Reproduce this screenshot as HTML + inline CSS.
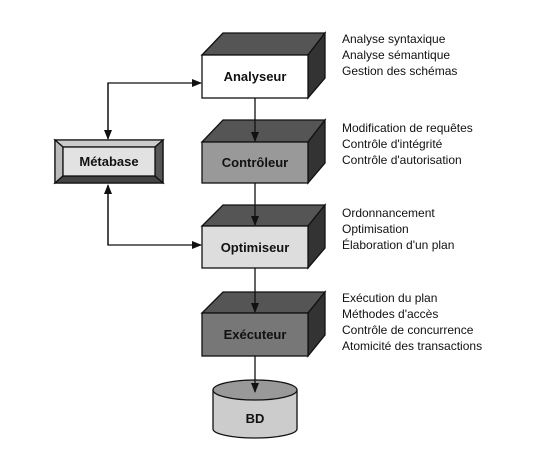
<!DOCTYPE html>
<html><head><meta charset="utf-8"><style>
html,body{margin:0;padding:0;background:#fff;}
svg{display:block;font-family:"Liberation Sans",sans-serif;}
</style></head><body>
<svg width="535" height="461" viewBox="0 0 535 461" xmlns="http://www.w3.org/2000/svg">
<defs>
<marker id="a" markerWidth="10" markerHeight="8" refX="9" refY="4" orient="auto" markerUnits="userSpaceOnUse">
<path d="M0,0 L10,4 L0,8 Z" fill="#111"/></marker>
</defs>
<g stroke="#111" stroke-width="1.3" fill="none">
<polyline points="108,138 108,83 201,83" marker-end="url(#a)"/>
<line x1="108" y1="83" x2="108" y2="139" marker-end="url(#a)"/>
<polyline points="108,186 108,245 201,245" marker-end="url(#a)"/>
<line x1="108" y1="245" x2="108" y2="185" marker-end="url(#a)"/>
</g>
<g stroke="#111" stroke-width="1.3">
<g>
<polygon points="202,55 223,33 325,33 308,55" fill="#555"/>
<polygon points="308,55 325,33 325,78 308,98" fill="#333"/>
<rect x="202" y="55" width="106" height="43" fill="#fff"/>
</g>
<g>
<polygon points="202,142 223,120 325,120 308,142" fill="#555"/>
<polygon points="308,142 325,120 325,163 308,183" fill="#333"/>
<rect x="202" y="142" width="106" height="41" fill="#999"/>
</g>
<g>
<polygon points="202,226 223,205 325,205 308,226" fill="#555"/>
<polygon points="308,226 325,205 325,248 308,268" fill="#333"/>
<rect x="202" y="226" width="106" height="42" fill="#ddd"/>
</g>
<g>
<polygon points="202,313 223,292 325,292 308,313" fill="#555"/>
<polygon points="308,313 325,292 325,335 308,356" fill="#333"/>
<rect x="202" y="313" width="106" height="43" fill="#777"/>
</g>
<rect x="55" y="140" width="108" height="43" fill="#888"/>
<polygon points="55,140 163,140 155,147 63,147" fill="#ccc"/>
<polygon points="55,140 63,147 63,176 55,183" fill="#bbb"/>
<polygon points="63,176 155,176 163,183 55,183" fill="#444"/>
<polygon points="155,147 163,140 163,183 155,176" fill="#555"/>
<rect x="63" y="147" width="92" height="29" fill="#e2e2e2"/>
<path d="M213,390 L213,429 A42,9 0 0 0 297,429 L297,390" fill="#ccc"/>
<ellipse cx="255" cy="390" rx="42" ry="10" fill="#999"/>
</g>
<g stroke="#111" stroke-width="1.3" fill="none">
<line x1="255" y1="98" x2="255" y2="141" marker-end="url(#a)"/>
<line x1="255" y1="183" x2="255" y2="225" marker-end="url(#a)"/>
<line x1="255" y1="268" x2="255" y2="312" marker-end="url(#a)"/>
<line x1="255" y1="356" x2="255" y2="392" marker-end="url(#a)"/>
</g>
<g font-weight="bold" font-size="13" text-anchor="middle" fill="#111">
<text x="255" y="81">Analyseur</text>
<text x="255" y="167">Contrôleur</text>
<text x="255" y="252">Optimiseur</text>
<text x="255" y="339">Exécuteur</text>
<text x="109" y="166">Métabase</text>
<text x="255" y="423">BD</text>
</g>
<g font-size="12" fill="#111">
<text x="342" y="43">Analyse syntaxique</text>
<text x="342" y="59">Analyse sémantique</text>
<text x="342" y="75">Gestion des schémas</text>
<text x="342" y="132">Modification de requêtes</text>
<text x="342" y="148">Contrôle d'intégrité</text>
<text x="342" y="164">Contrôle d'autorisation</text>
<text x="342" y="217">Ordonnancement</text>
<text x="342" y="233">Optimisation</text>
<text x="342" y="249">Élaboration d'un plan</text>
<text x="342" y="302">Exécution du plan</text>
<text x="342" y="318">Méthodes d'accès</text>
<text x="342" y="334">Contrôle de concurrence</text>
<text x="342" y="350">Atomicité des transactions</text>
</g>
</svg>
</body></html>
